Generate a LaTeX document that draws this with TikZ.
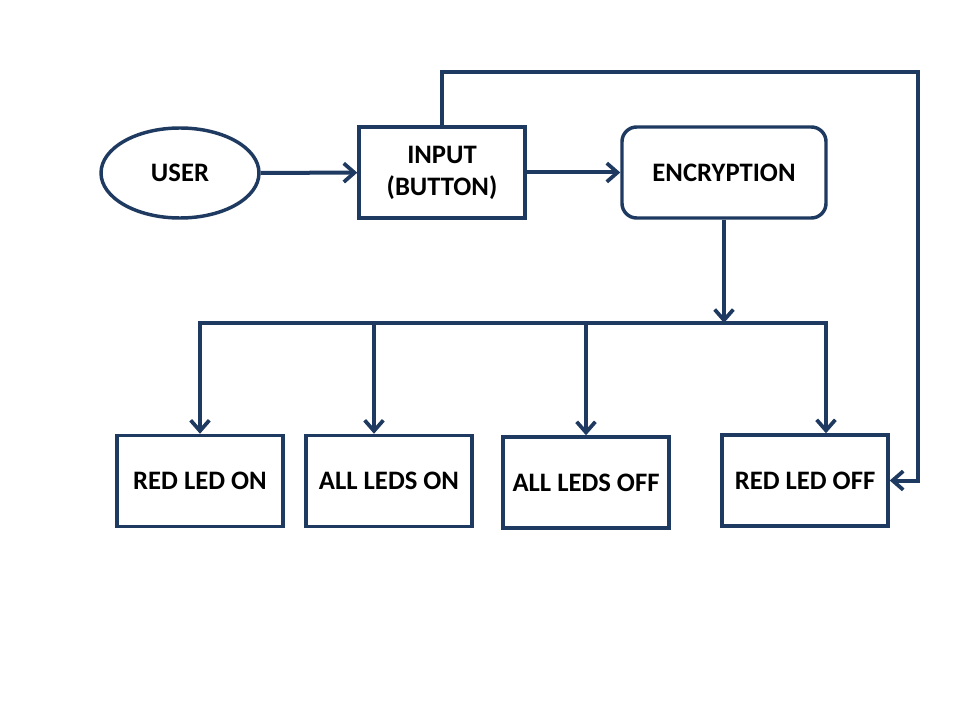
\documentclass[tikz,border=0pt]{standalone}
\usepackage{fontspec}
\setmainfont{Carlito}
\usepackage{tikz}
\usetikzlibrary{positioning,arrows.meta,shapes.geometric}
\definecolor{ednavy}{HTML}{1F3A60}

\begin{document}
\begin{tikzpicture}[
  x=0.75pt, y=-0.75pt,
  node distance=75pt,
  box/.style={draw=ednavy, line width=2.6pt, fill=white, minimum width=124.5pt, minimum height=68.25pt, align=center, inner sep=3pt, font=\fontsize{20pt}{24pt}\selectfont\bfseries},
  rbox/.style={box, rounded corners=11pt, minimum width=153pt},
  oval/.style={box, ellipse, minimum width=118.5pt, minimum height=67.5pt},
  arr/.style={-{Straight Barb[length=8pt,width=14pt,line width=2.8pt]}, line width=3pt, draw=ednavy},
  bus/.style={line width=3pt, draw=ednavy, line cap=rect}
]
\useasboundingbox (0,0) rectangle (960,720);
\node[oval] (user) at (180,173) {USER};
\node[box] (input) at (442,172.5) {INPUT\\(BUTTON)};
\node[rbox] (enc) at (724,172.5) {ENCRYPTION};
\node[box] (redon) at (200,481) {RED LED ON};
\node[box] (allon) at (389,481) {ALL LEDS ON};
\node[box] (alloff) at (586,482.5) {ALL LEDS OFF};
\node[box] (redoff) at (805,480.5) {RED LED OFF};
\coordinate (fb) at (918,72);
\coordinate (split) at (724,323);
\coordinate (tap1) at (200,323);
\coordinate (tap2) at (374,323);
\coordinate (tap3) at (586,323);
\coordinate (tap4) at (826,323);
\draw[arr] (user) -- (input);
\draw[arr] (input) -- (enc);
\draw[arr] (input.north) |- (fb) |- (redoff.east);
\draw[bus] (tap1) -- (tap4);
\draw[arr] (enc.south) -- (split);
\draw[arr] (tap1) -- (tap1 |- redon.north);
\draw[arr] (tap2) -- (tap2 |- allon.north);
\draw[arr] (tap3) -- (tap3 |- alloff.north);
\draw[arr] (tap4) -- (tap4 |- redoff.north);
\end{tikzpicture}
\end{document}
